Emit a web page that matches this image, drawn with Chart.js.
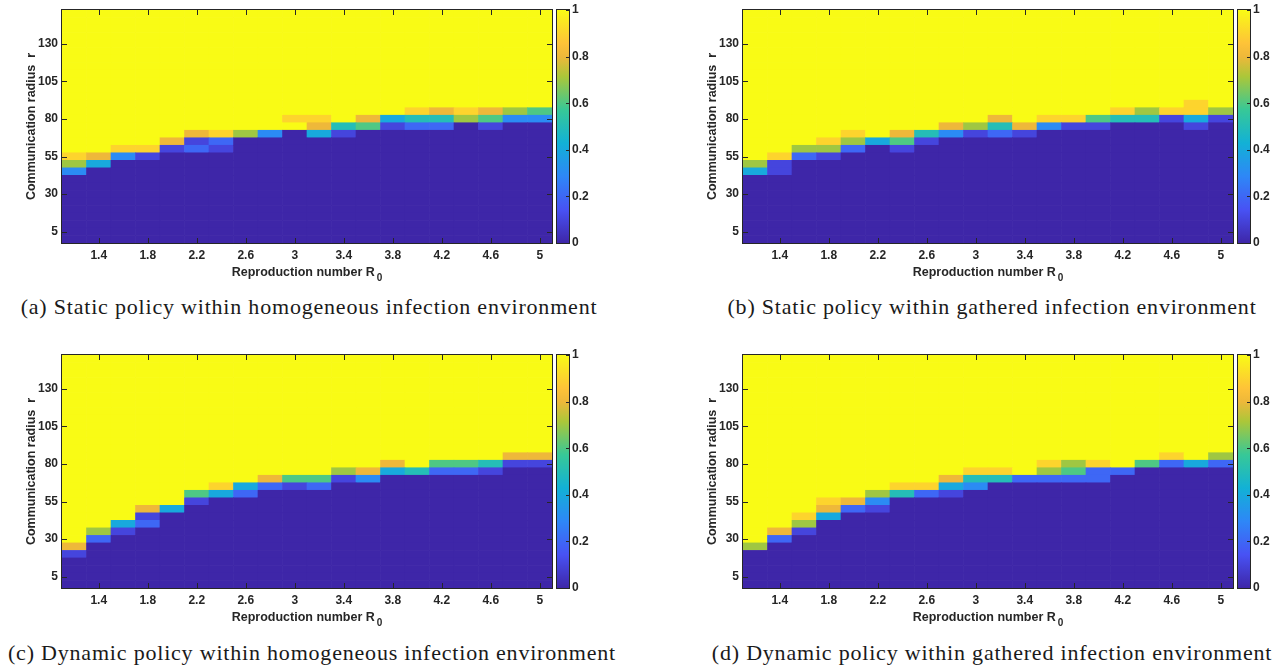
<!DOCTYPE html>
<html>
<head>
<meta charset="utf-8">
<script src="https://cdn.jsdelivr.net/npm/chart.js@4.4.1/dist/chart.umd.min.js"></script>
<style>
  body { margin: 0; background: #fff; width: 1281px; height: 666px; position: relative; overflow: hidden; }
  .panel { position: absolute; width: 600px; height: 290px; }
  .cap { position: absolute; font-family: "Liberation Serif", "Times New Roman", serif; font-size: 22px;
         line-height: 24px; letter-spacing: 0.8px; color: #1a1a1a; white-space: nowrap; transform: translateX(-50%); }
</style>
</head>
<body>
<div class="panel" style="left:0;top:0"><canvas id="chartA"></canvas></div>
<div class="panel" style="left:681px;top:0"><canvas id="chartB"></canvas></div>
<div class="panel" style="left:0;top:345px"><canvas id="chartC"></canvas></div>
<div class="panel" style="left:681px;top:345px"><canvas id="chartD"></canvas></div>

<div class="cap" style="left:309px;top:295px">(a) Static policy within homogeneous infection environment</div>
<div class="cap" style="left:992px;top:295px">(b) Static policy within gathered infection environment</div>
<div class="cap" style="left:312px;top:641px">(c) Dynamic policy within homogeneous infection environment</div>
<div class="cap" style="left:992px;top:641px">(d) Dynamic policy within gathered infection environment</div>

<script>
// grid of the heatmaps
const r0Values = [1.2, 1.4, 1.6, 1.8, 2.0, 2.2, 2.4, 2.6, 2.8, 3.0, 3.2, 3.4, 3.6, 3.8, 4.0, 4.2, 4.4, 4.6, 4.8, 5.0];
const radii = [0, 5, 10, 15, 20, 25, 30, 35, 40, 45, 50, 55, 60, 65, 70, 75, 80, 85, 90, 95,
               100, 105, 110, 115, 120, 125, 130, 135, 140, 145, 150];

const xTickLabels = ['1.4', '1.8', '2.2', '2.6', '3', '3.4', '3.8', '4.2', '4.6', '5'];
const yTickLabels = ['5', '30', '55', '80', '105', '130'];
const cbTickLabels = ['0', '0.2', '0.4', '0.6', '0.8', '1'];

// per column: lowest radius that is not 0, then the values going up from there (1 above)
const startA = [45, 50, 55, 55, 60, 60, 60, 70, 70, 75, 70, 70, 75, 75, 75, 75, 80, 75, 80, 80];
const mixA = [[0.3, 0.7, 0.9], [0.4, 0.8], [0.3, 0.9], [0.1, 0.9], [0.1, 0.8], [0.2, 0.1, 0.8], [0.1, 0.2, 0.9],
              [0.7], [0.3], [1, 0.9], [0.4, 0.8, 0.9], [0.1, 0.5], [0.6, 0.8], [0.1, 0.4], [0.2, 0.5, 0.9],
              [0.2, 0.5, 0.8], [0.7, 0.9], [0.1, 0.6, 0.8], [0.3, 0.7], [0.3, 0.6]];

const startB = [45, 45, 55, 55, 60, 65, 60, 65, 70, 70, 70, 70, 75, 75, 75, 80, 80, 80, 75, 80];
const mixB = [[0.4, 0.7], [0.1, 0.1, 0.9], [0.2, 0.7], [0.1, 0.7, 0.9], [0.2, 0.7, 0.9], [0.4], [0.1, 0.6, 0.8],
              [0.1, 0.5], [0.3, 0.8], [0.1, 0.7], [0.2, 0.5, 0.8], [0.1, 0.8], [0.3, 0.9], [0.1, 0.9], [0.1, 0.6],
              [0.5, 0.9], [0.5, 0.7], [0.1, 0.9], [0.1, 0.4, 0.9, 0.9], [0.1, 0.7]];

const startC = [20, 30, 35, 40, 50, 55, 60, 60, 65, 65, 65, 70, 70, 75, 75, 75, 75, 75, 80, 80];
const mixC = [[0.1, 0.8], [0.2, 0.7], [0.1, 0.4], [0.2, 0.1, 0.8], [0.4], [0.1, 0.6], [0.4, 0.9], [0.2, 0.4],
              [0.2, 0.8], [0.1, 0.6], [0.2, 0.6], [0.1, 0.7], [0.3, 0.8], [0.4, 0.8], [0.5], [0.2, 0.6],
              [0.2, 0.6], [0.1, 0.5], [0.1, 0.8], [0.1, 0.8]];

const startD = [25, 30, 35, 45, 50, 50, 60, 60, 60, 65, 70, 70, 70, 70, 70, 75, 80, 80, 80, 80];
const mixD = [[0.7], [0.2, 0.8], [0.1, 0.7, 0.9], [0.4, 0.8, 0.9], [0.2, 0.8], [0.1, 0.3, 0.7], [0.5, 0.9],
              [0.2, 0.9], [0.1, 0.4, 0.8], [0.3, 0.5, 0.9], [0.5, 0.9], [0.2], [0.2, 0.7, 0.9], [0.2, 0.6, 0.7],
              [0.2, 0.2, 0.9], [0.2], [0.6], [0.2, 0.9], [0.4], [0.2, 0.7]];

const xTitle = 'Reproduction number R';
const xTitleSub = '0';
const yTitle = 'Communication radius  r';

// parula-like colormap
const parula = [
  [0, [62, 38, 168]],
  [1 / 7, [72, 82, 244]],
  [2 / 7, [46, 135, 247]],
  [3 / 7, [18, 177, 214]],
  [4 / 7, [55, 200, 151]],
  [5 / 7, [171, 199, 57]],
  [0.8, [238, 184, 58]],
  [6 / 7, [254, 195, 56]],
  [1, [249, 251, 21]]
];
const ink = '#262626';
const sans = '"Liberation Sans", Arial, sans-serif';
const tickFont = { family: sans, size: 12, weight: 'bold' };

function colorFor(v) {
  for (let i = 1; i < parula.length; i++) {
    if (v <= parula[i][0]) {
      const [t0, c0] = parula[i - 1];
      const [t1, c1] = parula[i];
      const f = (v - t0) / (t1 - t0);
      const c = c0.map((a, k) => Math.round(a + (c1[k] - a) * f));
      return `rgb(${c[0]},${c[1]},${c[2]})`;
    }
  }
  const c = parula[parula.length - 1][1];
  return `rgb(${c[0]},${c[1]},${c[2]})`;
}

function buildGrid(starts, mixes) {
  return radii.map(r => r0Values.map((x, j) => {
    const k = (r - starts[j]) / 5;
    if (k < 0) return 0;
    return k < mixes[j].length ? mixes[j][k] : 1;
  }));
}

// box, inward ticks, colorbar and axis titles
const frame = {
  id: 'frame',
  afterDatasetsDraw(chart) {
    const { ctx, chartArea: a, scales } = chart;
    ctx.save();
    ctx.strokeStyle = ink;
    ctx.lineWidth = 1;
    ctx.beginPath();
    xTickLabels.forEach(t => {
      const px = Math.round(scales.x.getPixelForValue(parseFloat(t))) + 0.5;
      ctx.moveTo(px, a.bottom); ctx.lineTo(px, a.bottom - 5);
      ctx.moveTo(px, a.top); ctx.lineTo(px, a.top + 5);
    });
    yTickLabels.forEach(t => {
      const py = Math.round(scales.y.getPixelForValue(parseFloat(t))) + 0.5;
      ctx.moveTo(a.left, py); ctx.lineTo(a.left + 5, py);
      ctx.moveTo(a.right, py); ctx.lineTo(a.right - 5, py);
    });
    ctx.stroke();
    ctx.strokeRect(a.left - 0.5, a.top - 0.5, a.right - a.left + 1, a.bottom - a.top + 1);

    // colorbar
    const cb = scales.cb;
    const x0 = a.right + 5, w = 12;
    const g = ctx.createLinearGradient(0, cb.getPixelForValue(0), 0, cb.getPixelForValue(1));
    parula.forEach(([t, c]) => g.addColorStop(t, `rgb(${c[0]},${c[1]},${c[2]})`));
    ctx.fillStyle = g;
    ctx.fillRect(x0, a.top, w, a.bottom - a.top);
    ctx.strokeRect(x0 - 0.5, a.top - 0.5, w + 1, a.bottom - a.top + 1);
    ctx.beginPath();
    cbTickLabels.forEach(t => {
      const py = Math.round(cb.getPixelForValue(parseFloat(t))) + 0.5;
      ctx.moveTo(x0 + w, py); ctx.lineTo(x0 + w - 3, py);
    });
    ctx.stroke();
    ctx.restore();
  },
  afterDraw(chart) {
    const { ctx, chartArea: a } = chart;
    ctx.save();
    ctx.fillStyle = ink;
    ctx.textAlign = 'left';
    ctx.textBaseline = 'alphabetic';
    ctx.font = 'bold 12.5px ' + sans;
    const wMain = ctx.measureText(xTitle).width;
    ctx.font = 'bold 10px ' + sans;
    const wSub = ctx.measureText(xTitleSub).width;
    const x0 = (a.left + a.right) / 2 - (wMain + 2 + wSub) / 2;
    ctx.font = 'bold 12.5px ' + sans;
    ctx.fillText(xTitle, x0, a.bottom + 32.5);
    ctx.font = 'bold 10px ' + sans;
    ctx.fillText(xTitleSub, x0 + wMain + 2, a.bottom + 37.5);

    ctx.translate(32, (a.top + a.bottom) / 2);
    ctx.rotate(-Math.PI / 2);
    ctx.textAlign = 'center';
    ctx.textBaseline = 'middle';
    ctx.font = 'bold 12.5px ' + sans;
    ctx.fillText(yTitle, 0, 0);
    ctx.restore();
  }
};

// keep the plot box fixed: no extra room for end labels
function noEndPadding(s) {
  s.paddingTop = 0;
  s.paddingBottom = 0;
}

function heatmap(id, starts, mixes) {
  const grid = buildGrid(starts, mixes);
  const datasets = radii.map((r, i) => ({
    data: r0Values.map(x => ({ x: x, y: [r - 2.5, r + 2.5] })),
    backgroundColor: grid[i].map(colorFor),
    borderWidth: 0,
    barPercentage: 1,
    categoryPercentage: 1
  }));
  new Chart(document.getElementById(id), {
    type: 'bar',
    data: { datasets: datasets },
    options: {
      animation: false,
      responsive: true,
      maintainAspectRatio: false,
      layout: { padding: { top: 10, left: 0, right: 0, bottom: 0 } },
      plugins: { legend: { display: false }, tooltip: { enabled: false } },
      scales: {
        x: {
          type: 'linear', min: 1.1, max: 5.1, offset: false, stacked: true,
          grid: { display: false, drawTicks: false, offset: false }, border: { display: false },
          ticks: { font: tickFont, color: ink, padding: 5, autoSkip: false, maxRotation: 0,
                   callback: (v) => xTickLabels.find(t => Math.abs(parseFloat(t) - v) < 1e-6) },
          afterBuildTicks: (s) => { s.ticks = xTickLabels.map(t => ({ value: parseFloat(t) })); },
          afterFit: (s) => { s.height = 47; s.paddingLeft = 0; s.paddingRight = 0; }
        },
        y: {
          type: 'linear', min: -2.5, max: 152.5, stacked: false,
          grid: { display: false, drawTicks: false }, border: { display: false },
          ticks: { font: tickFont, color: ink, padding: 4, autoSkip: false,
                   callback: (v) => yTickLabels.find(t => Math.abs(parseFloat(t) - v) < 1e-6) },
          afterBuildTicks: (s) => { s.ticks = yTickLabels.map(t => ({ value: parseFloat(t) })); },
          afterFit: (s) => { s.width = 62; noEndPadding(s); }
        },
        cb: {
          type: 'linear', position: 'right', min: 0, max: 1,
          grid: { display: false, drawTicks: false }, border: { display: false },
          ticks: { font: tickFont, color: ink, padding: 20, autoSkip: false,
                   callback: (v) => cbTickLabels.find(t => Math.abs(parseFloat(t) - v) < 1e-6) },
          afterBuildTicks: (s) => { s.ticks = cbTickLabels.map(t => ({ value: parseFloat(t) })); },
          afterFit: (s) => { s.width = 48; noEndPadding(s); }
        }
      }
    },
    plugins: [frame]
  });
}

heatmap('chartA', startA, mixA);
heatmap('chartB', startB, mixB);
heatmap('chartC', startC, mixC);
heatmap('chartD', startD, mixD);
</script>
</body>
</html>
